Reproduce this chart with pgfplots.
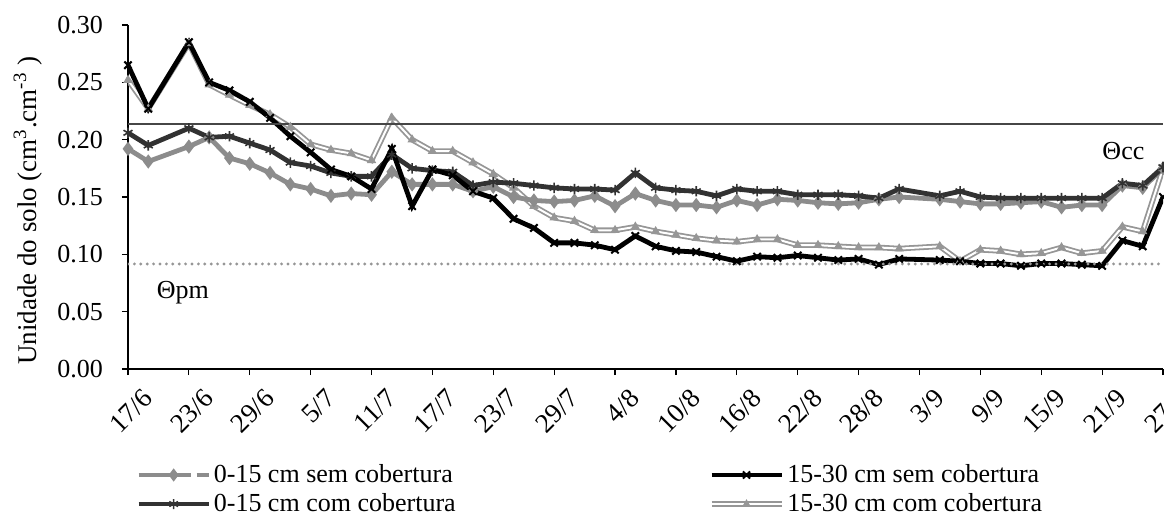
\documentclass[border=0pt]{standalone}
\usepackage{fontspec}
\setmainfont{Liberation Serif}
\usepackage{pgfplots}
\usepackage{pgfplotstable}
\pgfplotsset{compat=1.18}

\definecolor{grayC}{RGB}{140,140,140}
\definecolor{darkB}{RGB}{50,50,50}
\definecolor{grayD}{RGB}{150,150,150}
\definecolor{refline}{RGB}{70,70,70}
\definecolor{dotline}{RGB}{150,150,150}

% day counted from 17/6; A = 15-30 sem, B = 0-15 com, C = 0-15 sem, D = 15-30 com
\pgfplotstableread{
day A     B     C     D
0   0.265 0.206 0.192 0.252
2   0.227 0.195 0.181 0.227
6   0.285 0.210 0.194 0.284
8   0.250 0.202 0.202 0.248
10  0.243 0.203 0.184 0.239
12  0.233 0.197 0.179 0.230
14  0.219 0.191 0.171 0.222
16  0.203 0.180 0.161 0.211
18  0.189 0.177 0.157 0.196
20  0.174 0.171 0.151 0.191
22  0.168 0.168 0.153 0.188
24  0.157 0.168 0.152 0.182
26  0.192 0.187 0.172 0.219
28  0.142 0.175 0.161 0.200
30  0.174 0.173 0.161 0.190
32  0.169 0.172 0.161 0.190
34  0.155 0.160 0.155 0.180
36  0.149 0.163 0.159 0.170
38  0.131 0.162 0.150 0.158
40  0.123 0.160 0.147 0.142
42  0.110 0.158 0.146 0.132
44  0.110 0.157 0.147 0.129
46  0.108 0.157 0.151 0.121
48  0.104 0.156 0.142 0.121
50  0.116 0.171 0.153 0.124
52  0.107 0.158 0.147 0.120
54  0.103 0.156 0.143 0.117
56  0.102 0.155 0.143 0.114
58  0.098 0.151 0.141 0.112
60  0.094 0.157 0.147 0.111
62  0.098 0.155 0.143 0.113
64  0.097 0.155 0.148 0.113
66  0.099 0.152 0.147 0.108
68  0.097 0.152 0.145 0.108
70  0.095 0.152 0.144 0.107
72  0.096 0.151 0.145 0.106
74  0.091 0.149 0.148 0.106
76  0.096 0.157 0.150 0.105
80  0.095 0.151 0.148 0.107
82  0.094 0.155 0.146 0.094
84  0.092 0.150 0.144 0.104
86  0.092 0.149 0.144 0.103
88  0.090 0.149 0.145 0.100
90  0.092 0.149 0.146 0.101
92  0.092 0.149 0.141 0.106
94  0.091 0.149 0.143 0.101
96  0.090 0.149 0.143 0.103
98  0.112 0.162 0.160 0.124
100 0.107 0.160 0.158 0.120
102 0.150 0.176 0.175 0.175
}\soil

\begin{document}
\begin{tikzpicture}[font=\fontsize{13}{15}\selectfont]
\useasboundingbox (-64pt,-71pt) rectangle (518pt,184.5pt);
\begin{axis}[
  at={(0,0)}, anchor=south west,
  scale only axis, width=517.5pt, height=172pt,
  xmin=0, xmax=102, ymin=0, ymax=0.30,
  axis lines*=left,
  axis line style={black, line width=0.6pt},
  tick align=outside, major tick length=3pt,
  tick style={black, line width=0.6pt},
  xtick={0,6,12,18,24,30,36,42,48,54,60,66,72,78,84,90,96,102},
  xticklabels={17/6,23/6,29/6,5/7,11/7,17/7,23/7,29/7,4/8,10/8,16/8,22/8,28/8,3/9,9/9,15/9,21/9,27/9},
  xticklabel style={rotate=45, anchor=north east, inner sep=1pt, yshift=-8pt, xshift=1.5pt,
    font=\fontsize{13.5}{15}\selectfont},
  ytick={0,0.05,0.10,0.15,0.20,0.25,0.30},
  yticklabel style={xshift=-6pt, font=\fontsize{13}{15}\selectfont,
    /pgf/number format/.cd, fixed, fixed zerofill, precision=2, assume math mode=true},
  ylabel={Unidade do solo (cm\textsuperscript{3}.cm\textsuperscript{-3} )},
  ylabel style={at={(axis description cs:-0.0966,0.46)}, anchor=center, font=\fontsize{13.5}{15}\selectfont},
  legend columns=2,
  legend cell align=left,
  legend image code/.code={\draw[mark repeat=2,mark phase=2] plot coordinates {(0pt,0pt) (17.5pt,0pt) (35pt,0pt)};},
  legend style={at={(0.002,-0.256)}, anchor=north west, draw=none, fill=none,
    font=\fontsize{13}{15}\selectfont, row sep=1pt,
    nodes={inner sep=1.5pt},
    /tikz/every even column/.append style={column sep=125pt}},
]
% legend images, row-wise as in the source
\addlegendimage{grayC, line width=2.2pt, mark=diamond*, mark size=1.5pt,
  dash pattern=on 26pt off 3pt, mark options={solid, fill=grayC}}
\addlegendimage{black, line width=2.2pt, mark=x, mark size=2.5pt, mark options={solid, line width=1pt}}
\addlegendimage{darkB, line width=2.2pt, mark=asterisk, mark size=2.5pt, mark options={solid, line width=0.8pt}}
\addlegendimage{legend image code/.code={
  \draw[grayD, line width=2.8pt] (0pt,0pt) -- (35pt,0pt);
  \draw[white, line width=1pt] (0pt,0pt) -- (35pt,0pt);
  \draw[grayD, fill=grayD] plot[mark=triangle*, mark size=2pt] coordinates {(17.5pt,0pt)};}}

% 15-30 cm com cobertura (double line)
\addplot[forget plot, grayD, line width=2.8pt, mark=triangle*, mark size=2.2pt,
  mark options={fill=grayD, draw=grayD, line width=0.5pt}] table[x=day, y=D] {\soil};
\addplot[forget plot, white, line width=1pt] table[x=day, y=D] {\soil};
% 0-15 cm sem cobertura
\addplot[forget plot, grayC, line width=2.4pt, mark=diamond*, mark size=1.6pt,
  mark options={fill=grayC}] table[x=day, y=C] {\soil};
% 0-15 cm com cobertura
\addplot[forget plot, darkB, line width=2.4pt, mark=asterisk, mark size=2.6pt,
  mark options={line width=0.8pt}] table[x=day, y=B] {\soil};
% 15-30 cm sem cobertura
\addplot[forget plot, black, line width=2.4pt, mark=x, mark size=2.6pt,
  mark options={line width=1pt}] table[x=day, y=A] {\soil};

% field capacity and wilting point
\addplot[forget plot, refline, line width=0.75pt] coordinates {(0,0.2137) (102,0.2137)};
\addplot[forget plot, dotline, line width=1.6pt, line cap=round, dash pattern=on 0pt off 3.2pt]
  coordinates {(0,0.0916) (102,0.0916)};

\node at (axis cs:98.1,0.19) {Θcc};
\node at (axis cs:5.4,0.0665) {Θpm};

\legend{0-15 cm sem cobertura, 15-30 cm sem cobertura, 0-15 cm com cobertura, 15-30 cm com cobertura}
\end{axis}
\end{tikzpicture}
\end{document}
